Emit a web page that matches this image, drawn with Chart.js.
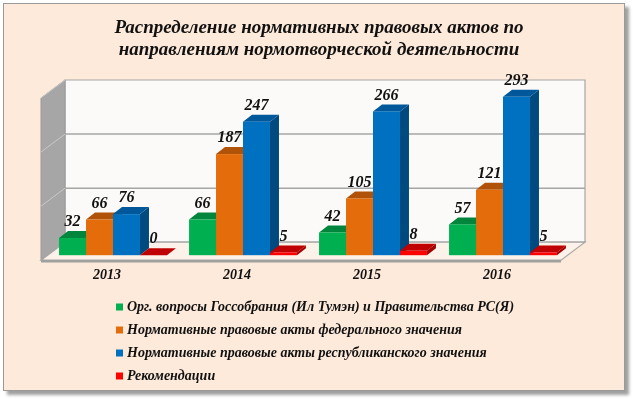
<!DOCTYPE html>
<html>
<head>
<meta charset="utf-8">
<script src="https://cdn.jsdelivr.net/npm/chart.js@4.4.0/dist/chart.umd.min.js"></script>
<style>
    html, body { margin: 0; padding: 0; background: #fff; }
    #frame {
        position: absolute; left: 3px; top: 3px;
        width: 620px; height: 386px;
        background: #fdeada;
        border: 1px solid #9a9a9a;
        box-shadow: 4px 4px 3px #a0a0a0;
    }
    #wrap { position: absolute; left: 0; top: 0; width: 635px; height: 399px; }
</style>
</head>
<body>
<div id="frame"></div>
<div id="wrap"><canvas id="chart" width="635" height="399"></canvas></div>
<script>
// Data
const years = ['2013', '2014', '2015', '2016'];
const orgValues = [32, 66, 42, 57];
const federalValues = [66, 187, 105, 121];
const republicValues = [76, 247, 266, 293];
const recommendValues = [0, 5, 8, 5];
const seriesNames = [
    'Орг. вопросы Госсобрания (Ил Тумэн) и Правительства РС(Я)',
    'Нормативные правовые акты федерального значения',
    'Нормативные правовые акты республиканского значения',
    'Рекомендации'
];
const titleLines = ['Распределение нормативных правовых актов по', 'направлениям нормотворческой деятельности'];
const yTicks = [0, 100, 200, 300];

// Styles
const frontColors = ['#00b050', '#e46c0a', '#0070c0', '#ff0000'];
const topColors = ['#00853c', '#b05308', '#00589a', '#c00000'];
const sideColors = ['#006e32', '#8f4306', '#004a80', '#a00000'];
const serif = "'Liberation Serif', 'Times New Roman', serif";

// depth offsets relative to the bar front plane
const BAR_D = { x: 9, y: -7 };
const WALL_D = { x: 17, y: -13 };
const FRONT_D = { x: -7, y: 5 };

function poly(ctx, pts, fill, stroke, lw) {
    ctx.beginPath();
    ctx.moveTo(pts[0][0], pts[0][1]);
    for (let i = 1; i < pts.length; i++) ctx.lineTo(pts[i][0], pts[i][1]);
    ctx.closePath();
    if (fill) { ctx.fillStyle = fill; ctx.fill(); }
    if (stroke) { ctx.strokeStyle = stroke; ctx.lineWidth = lw || 1; ctx.stroke(); }
}

const pseudo3d = {
    id: 'pseudo3d',
    beforeDatasetsDraw(chart) {
        const ctx = chart.ctx;
        const area = chart.chartArea;
        const yScale = chart.scales.y;
        const L = area.left, R = area.right;
        const base = yScale.getPixelForValue(0);
        const top = yScale.getPixelForValue(yTicks[yTicks.length - 1]);

        ctx.save();
        // back wall
        poly(ctx, [
            [L + WALL_D.x, top + WALL_D.y], [R + WALL_D.x, top + WALL_D.y],
            [R + WALL_D.x, base + WALL_D.y], [L + WALL_D.x, base + WALL_D.y]
        ], '#fbfaf8', '#a6a6a6', 1.2);

        // left wall
        poly(ctx, [
            [L + FRONT_D.x, top + FRONT_D.y], [L + WALL_D.x, top + WALL_D.y],
            [L + WALL_D.x, base + WALL_D.y], [L + FRONT_D.x, base + FRONT_D.y]
        ], '#a6a6a6', '#9a9a9a', 1);

        // gridlines
        yTicks.forEach(v => {
            const y = yScale.getPixelForValue(v);
            if (v > 0 && v < yTicks[yTicks.length - 1]) {
                ctx.beginPath();
                ctx.moveTo(L + WALL_D.x, y + WALL_D.y);
                ctx.lineTo(R + WALL_D.x, y + WALL_D.y);
                ctx.strokeStyle = '#a6a6a6';
                ctx.lineWidth = 1.5;
                ctx.stroke();
            }
            if (v > 0) {
                ctx.beginPath();
                ctx.moveTo(L + WALL_D.x, y + WALL_D.y);
                ctx.lineTo(L + FRONT_D.x, y + FRONT_D.y);
                ctx.strokeStyle = '#c9c9c9';
                ctx.lineWidth = 1;
                ctx.stroke();
            }
        });

        // floor
        poly(ctx, [
            [L + FRONT_D.x, base + FRONT_D.y], [L + WALL_D.x, base + WALL_D.y],
            [R + WALL_D.x, base + WALL_D.y], [R + FRONT_D.x, base + FRONT_D.y]
        ], '#fdf2e9', '#a6a6a6', 1.2);
        ctx.beginPath();
        ctx.moveTo(L + FRONT_D.x, base + FRONT_D.y + 1);
        ctx.lineTo(R + FRONT_D.x, base + FRONT_D.y + 1);
        ctx.strokeStyle = '#a0a0a0';
        ctx.lineWidth = 2.5;
        ctx.stroke();

        // bars
        const metas = chart.data.datasets.map((ds, d) => chart.getDatasetMeta(d));
        years.forEach((year, i) => {
            metas.forEach((meta, d) => {
                const el = meta.data[i];
                const x0 = el.x - el.width / 2, x1 = el.x + el.width / 2;
                const yt = el.y, yb = el.base;
                poly(ctx, [[x1, yt], [x1 + BAR_D.x, yt + BAR_D.y], [x1 + BAR_D.x, yb + BAR_D.y], [x1, yb]], sideColors[d]);
                poly(ctx, [[x0, yt], [x0 + BAR_D.x, yt + BAR_D.y], [x1 + BAR_D.x, yt + BAR_D.y], [x1, yt]], topColors[d]);
                if (yb - yt > 0.5) {
                    ctx.fillStyle = frontColors[d];
                    ctx.fillRect(x0, yt, x1 - x0, yb - yt);
                }
            });
        });

        // value labels
        ctx.font = 'italic bold 16px ' + serif;
        ctx.fillStyle = '#111';
        ctx.textAlign = 'center';
        ctx.textBaseline = 'middle';
        metas.forEach((meta, d) => {
            meta.data.forEach((el, i) => {
                const v = chart.data.datasets[d].data[i];
                ctx.fillText(String(v), el.x, el.y - 16);
            });
        });
        ctx.restore();
        return false;
    },
    afterDraw(chart) {
        const ctx = chart.ctx;
        ctx.save();
        // title
        ctx.font = 'italic bold 19px ' + serif;
        ctx.fillStyle = '#111';
        ctx.textAlign = 'center';
        ctx.textBaseline = 'middle';
        titleLines.forEach((line, k) => ctx.fillText(line, 319, 28 + k * 22));

        // legend, one entry per line
        ctx.font = 'italic bold 14px ' + serif;
        ctx.textAlign = 'left';
        chart.data.datasets.forEach((ds, d) => {
            const y = 307 + d * 23;
            ctx.fillStyle = frontColors[d];
            ctx.fillRect(116, y - 3.5, 7, 7);
            ctx.fillStyle = '#111';
            ctx.fillText(ds.label, 127, y);
        });
        ctx.restore();
    }
};

const datasets = [orgValues, federalValues, republicValues, recommendValues].map((vals, d) => ({
    label: seriesNames[d],
    data: vals,
    backgroundColor: frontColors[d],
    categoryPercentage: 0.83,
    barPercentage: 1.0
}));

new Chart(document.getElementById('chart'), {
    type: 'bar',
    data: { labels: years, datasets: datasets },
    plugins: [pseudo3d],
    options: {
        responsive: false,
        animation: false,
        devicePixelRatio: 1,
        layout: { padding: { left: 48, right: 67, top: 93, bottom: 103 } },
        plugins: {
            legend: { display: false },
            tooltip: { enabled: false },
            title: { display: false }
        },
        scales: {
            x: {
                grid: { display: false, drawTicks: false },
                border: { display: false },
                ticks: {
                    color: '#111',
                    padding: 12,
                    labelOffset: -6,
                    font: { family: serif, size: 14, weight: 'bold', style: 'italic' }
                }
            },
            y: {
                display: false,
                min: 0,
                max: 300,
                ticks: { stepSize: 100 }
            }
        }
    }
});
</script>
</body>
</html>
